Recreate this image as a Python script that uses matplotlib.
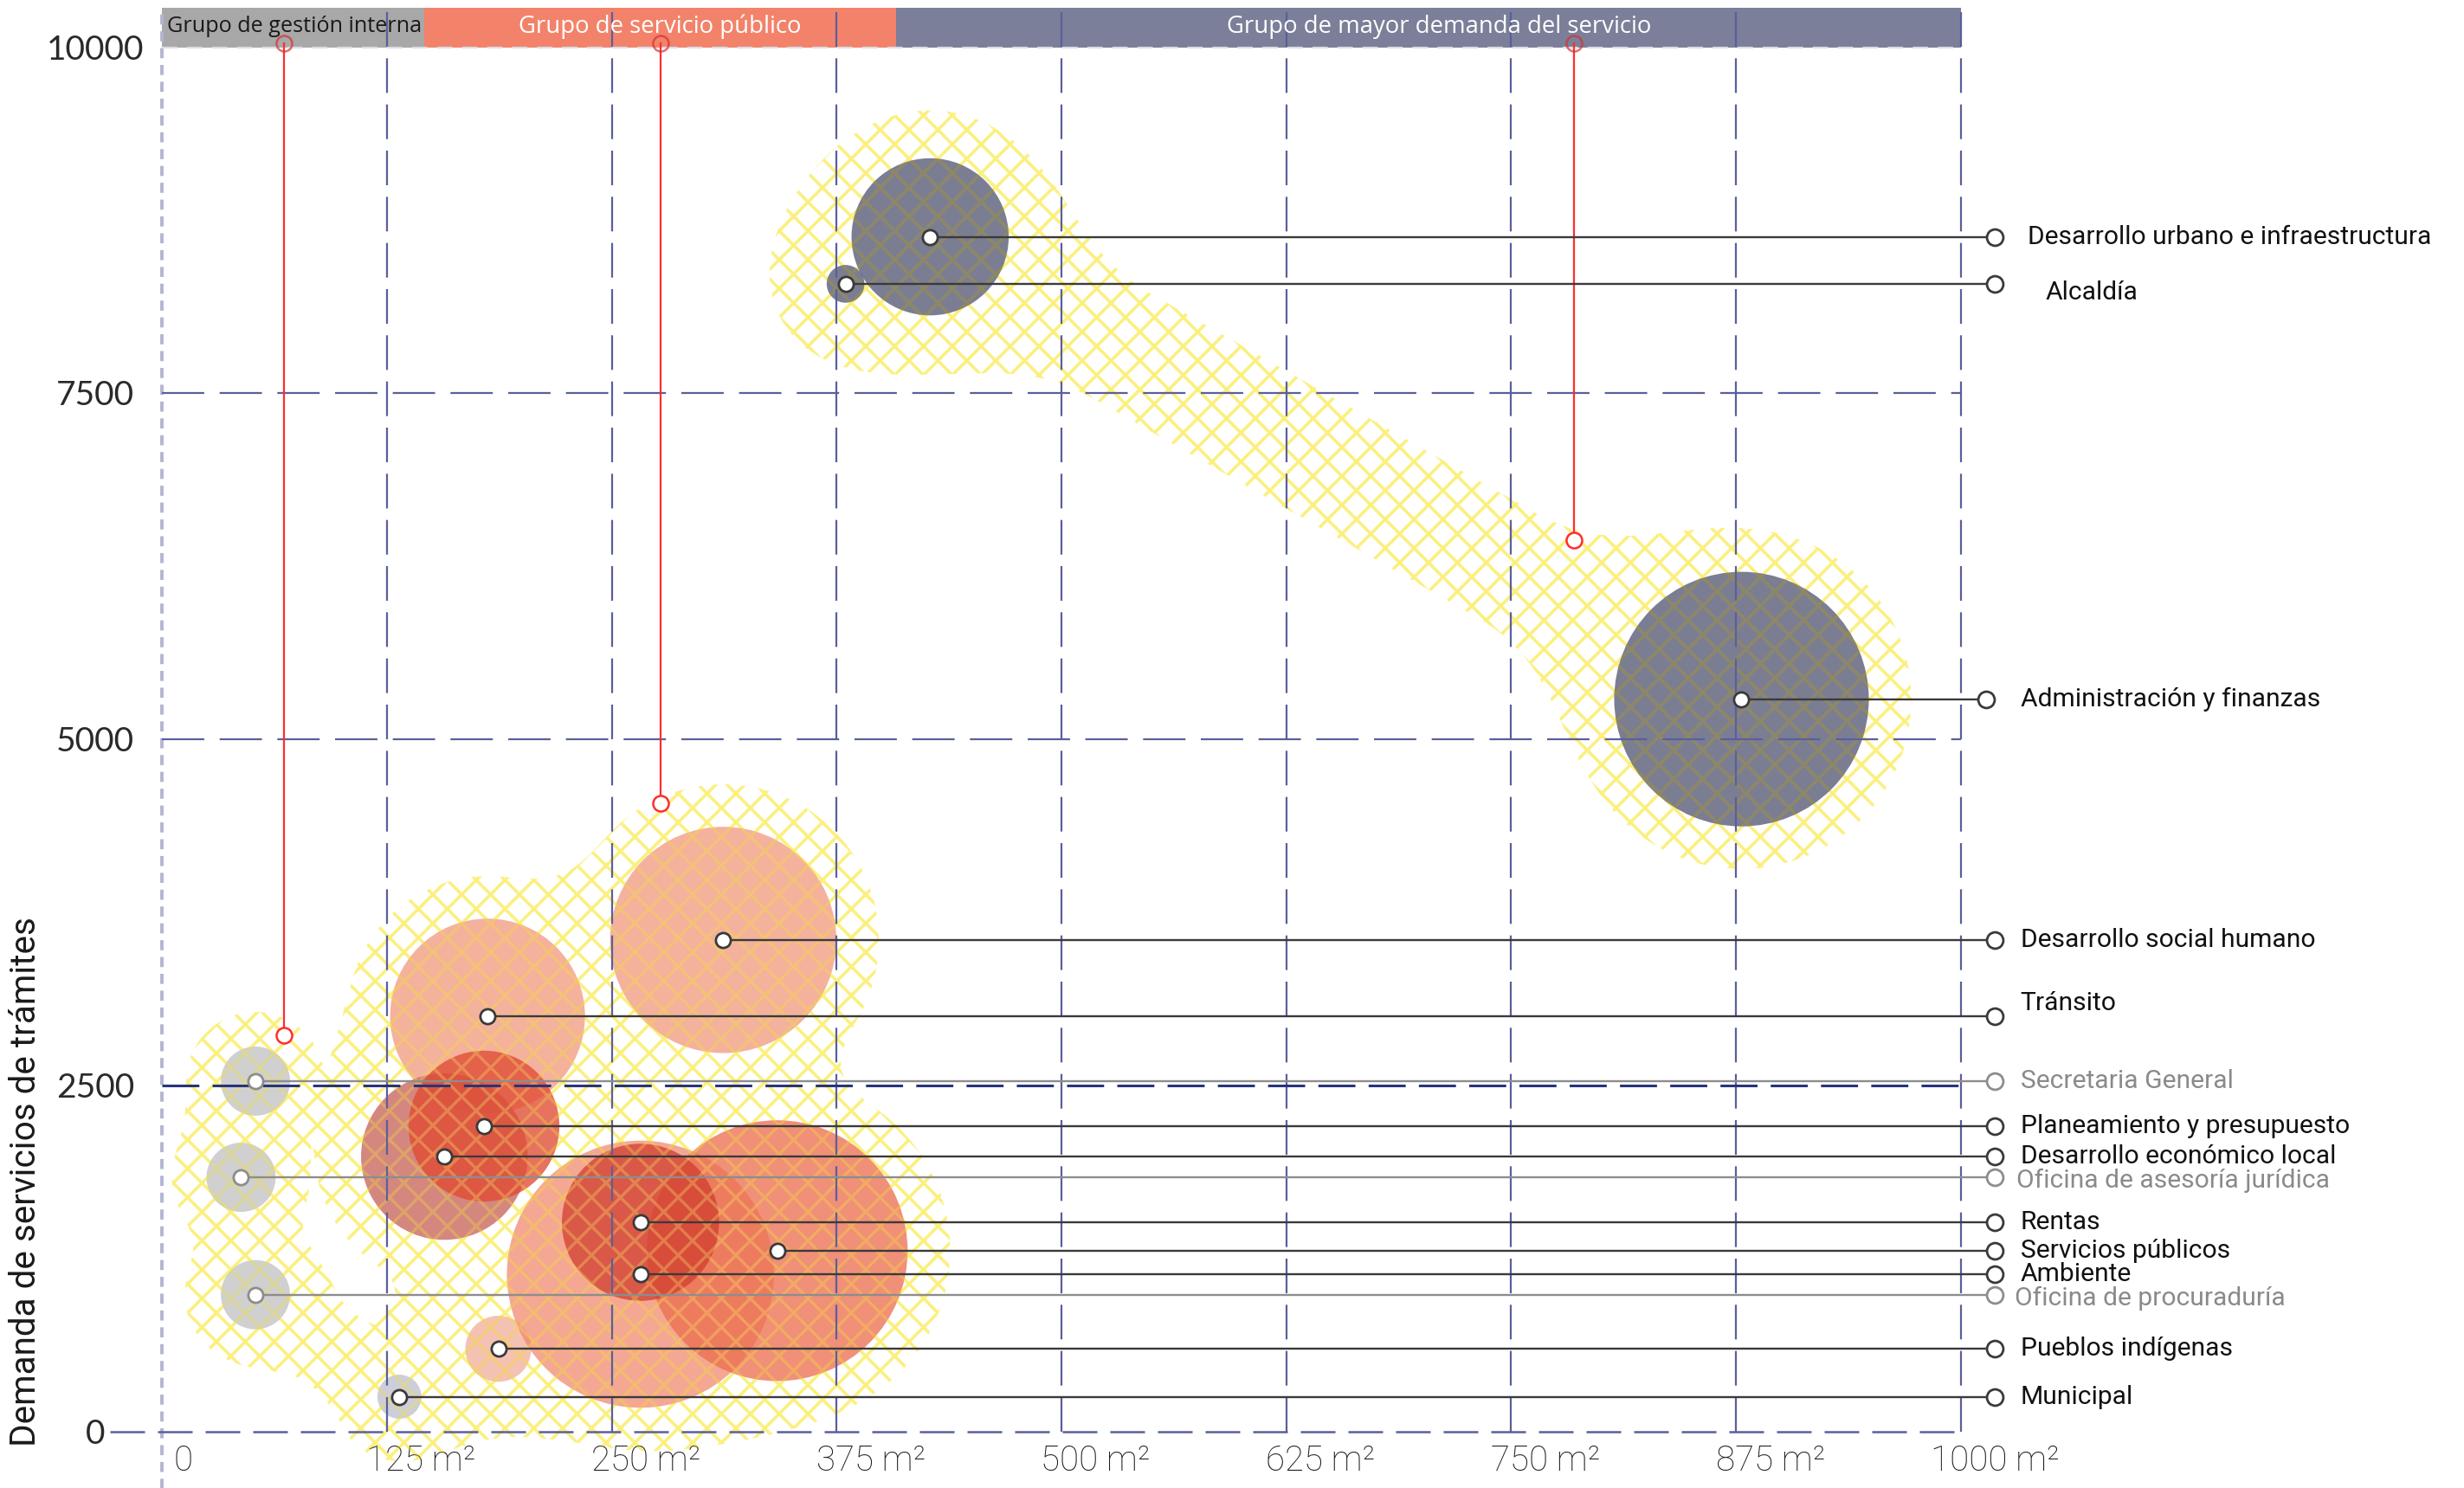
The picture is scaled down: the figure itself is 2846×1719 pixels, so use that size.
import numpy as np
import matplotlib.pyplot as plt
from matplotlib.colors import to_rgba
from matplotlib.patches import Rectangle

# ---- datos ----
dependencias = [
    "Desarrollo urbano e infraestructura", "Alcaldía", "Administración y finanzas",
    "Desarrollo social humano", "Tránsito", "Secretaria General",
    "Planeamiento y presupuesto", "Desarrollo económico local",
    "Oficina de asesoría jurídica", "Rentas", "Servicios públicos", "Ambiente",
    "Oficina de procuraduría", "Pueblos indígenas", "Municipal",
]
area_m2 = [427, 380, 878, 312, 181, 52, 179, 157, 44, 266, 342, 266, 52, 187, 132]
demanda = [8630, 8290, 5290, 3550, 3000, 2530, 2205, 1985, 1835, 1510, 1305, 1135, 987, 596, 250]
tamano = [50, 12, 81, 72, 62, 22, 48, 53, 22, 50, 83, 85, 22, 21, 14]
grupo = ["mayor", "mayor", "mayor", "publico", "publico", "interna", "publico", "publico",
         "interna", "publico", "publico", "publico", "interna", "publico", "interna"]

grupos = ["Grupo de gestión interna", "Grupo de servicio público", "Grupo de mayor demanda del servicio"]
grupo_limites = [0, 146, 408, 1000]
grupo_area = [68, 277, 785]
grupo_demanda = [2860, 4540, 6440]

x_ticks = [0, 125, 250, 375, 500, 625, 750, 875, 1000]
x_tick_labels = ["0", "125 m²", "250 m²", "375 m²", "500 m²", "625 m²", "750 m²", "875 m²", "1000 m²"]
y_ticks = [0, 2500, 5000, 7500, 10000]
y_tick_labels = ["0", "2500", "5000", "7500", "10000"]

# ---- escala de la figura ----
DPI = 200
W_PX, H_PX = 2846, 1719
X0_PX, X1_PX = 187, 2265          # pixeles de x=0 y x=1000
Y0_PX, Y1_PX = 1653.5, 54.5       # pixeles de y=0 y y=10000
SX = (X1_PX - X0_PX) / 1000.0
SY = (Y0_PX - Y1_PX) / 10000.0
REF = 1.815                        # medidas tomadas sobre la imagen reducida

GRID = '#5a5f9c'
HATCH = '#fbf07e'
colores = {
    "Desarrollo urbano e infraestructura": ('#5a5d78', 0.8, 3.0),
    "Alcaldía": ('#5a5d78', 0.8, 3.1),
    "Administración y finanzas": ('#5a5d78', 0.8, 3.0),
    "Desarrollo social humano": ('#f09478', 0.72, 3.0),
    "Tránsito": ('#f09478', 0.72, 3.0),
    "Secretaria General": ('#bcbcbc', 0.7, 3.0),
    "Planeamiento y presupuesto": ('#e04a33', 0.78, 3.2),
    "Desarrollo económico local": ('#c8655b', 0.78, 3.1),
    "Oficina de asesoría jurídica": ('#bcbcbc', 0.7, 3.0),
    "Rentas": ('#d23d2e', 0.75, 3.4),
    "Servicios públicos": ('#ec6d4e', 0.76, 3.3),
    "Ambiente": ('#f08466', 0.7, 3.2),
    "Oficina de procuraduría": ('#bcbcbc', 0.7, 3.0),
    "Pueblos indígenas": ('#ee9a80', 0.6, 3.0),
    "Municipal": ('#b9bac8', 0.7, 3.0),
}
grises = {"Secretaria General", "Oficina de asesoría jurídica", "Oficina de procuraduría"}
# (dx marcador, dx texto, dy texto) para las etiquetas de la derecha
ajuste = {
    "Desarrollo urbano e infraestructura": (0, 4, 0),
    "Alcaldía": (0, 14, -60),
    "Administración y finanzas": (-5, 0, 0),
    "Tránsito": (0, 0, 95),
    "Oficina de asesoría jurídica": (0, -2, -25),
    "Oficina de procuraduría": (0, -3, -25),
}

plt.rcParams['hatch.linewidth'] = 1.25

fig = plt.figure(figsize=(W_PX / DPI, H_PX / DPI), dpi=DPI)
ax = fig.add_axes([0, 0, 1, 1])
ax.set_xlim(-X0_PX / SX, (W_PX - X0_PX) / SX)
ax.set_ylim(-(H_PX - Y0_PX) / SY, Y0_PX / SY)
ax.axis('off')

idx = {n: i for i, n in enumerate(dependencias)}

# ---- manchas amarillas (union suave de circulos ampliados) ----
gx = np.linspace(-80, 1150, 800)
gy = np.linspace(-420, 10300, 800)
GX, GY = np.meshgrid(gx, gy)
PX, PY = GX * SX, GY * SY


def d_circulo(n, extra):
    i = idx[n]
    return np.hypot(PX - area_m2[i] * SX, PY - demanda[i] * SY) - (tamano[i] + extra) * REF


def d_capsula(a, b, ancho):
    ia, ib = idx[a], idx[b]
    ax_, ay_ = area_m2[ia] * SX, demanda[ia] * SY
    bx_, by_ = area_m2[ib] * SX, demanda[ib] * SY
    vx, vy = bx_ - ax_, by_ - ay_
    t = np.clip(((PX - ax_) * vx + (PY - ay_) * vy) / (vx * vx + vy * vy), 0, 1)
    return np.hypot(PX - ax_ - t * vx, PY - ay_ - t * vy) - ancho * REF


def smin(a, b, k):
    h = np.clip(0.5 + 0.5 * (b - a) / k, 0, 1)
    return b * (1 - h) + a * h - k * h * (1 - h)


manchas = [
    (["Secretaria General", "Oficina de asesoría jurídica", "Oficina de procuraduría", "Municipal"],
     [("Oficina de procuraduría", "Municipal", 24)], 22, 30),
    (["Desarrollo social humano", "Tránsito", "Planeamiento y presupuesto", "Desarrollo económico local",
      "Rentas", "Servicios públicos", "Ambiente", "Pueblos indígenas", "Municipal"], [], 27, 50),
    (["Desarrollo urbano e infraestructura", "Alcaldía", "Administración y finanzas"],
     [("Desarrollo urbano e infraestructura", "Administración y finanzas", 38)], 27, 70),
]
campo = None
for miembros, enlaces, extra, k in manchas:
    d = None
    for n in miembros:
        c = d_circulo(n, extra)
        d = c if d is None else smin(d, c, k * REF)
    for a, b, w in enlaces:
        d = smin(d, d_capsula(a, b, w), k * REF)
    campo = d if campo is None else np.minimum(campo, d)

niveles = [campo.min() - 1, 0]
plt.rcParams['hatch.color'] = HATCH
ax.contourf(GX, GY, campo, levels=niveles, colors='none', hatches=['xx'], zorder=2)
# la misma trama, tenue, por encima de las burbujas
plt.rcParams['hatch.color'] = to_rgba(HATCH, 0.3)
ax.contourf(GX, GY, campo, levels=niveles, colors='none', hatches=['xx'], zorder=3.45)

# ---- burbujas ----
for n in dependencias:
    i = idx[n]
    col, a, z = colores[n]
    diam_pt = 2 * tamano[i] * REF * 72 / DPI
    ax.scatter(area_m2[i], demanda[i], s=diam_pt ** 2, color=col, alpha=a,
               edgecolors='none', zorder=z)
    if grupo[i] == "mayor":
        # la trama se ve oscurecida dentro de estas burbujas
        ax.scatter(area_m2[i], demanda[i], s=diam_pt ** 2, facecolors='none',
                   edgecolors='#7a7258', linewidths=0, hatch='xx', alpha=0.5, zorder=3.5)

# ---- cuadricula ----
for t in x_ticks[1:]:
    ax.plot([t, t], [0, 10283], color=GRID, lw=0.8, ls=(0, (18, 6)), zorder=3.6)
ax.plot([0, 0], [-420, 10283], color='#b3b6d2', lw=1.4, ls=(0, (3, 2)), zorder=3.6)
for t in y_ticks[1:-1]:
    if t == 2500:
        ax.plot([0, 1000], [t, t], color='#27347c', lw=1.1, ls=(0, (14, 5)), zorder=3.7)
    else:
        ax.plot([0, 1000], [t, t], color=GRID, lw=0.8, ls=(0, (22, 8)), zorder=3.6)
ax.plot([-29, 1000], [0, 0], color=GRID, lw=0.9, ls=(0, (16, 6)), zorder=3.6)

# ---- cabecera de grupos ----
colores_grupo = ['#a8a8a8', '#f2836a', '#7b7f99']
texto_grupo = ['#1a1a1a', 'white', 'white']
desplaza = [0, 0, 6]
for k, nombre in enumerate(grupos):
    x0, x1 = grupo_limites[k], grupo_limites[k + 1]
    ax.add_patch(Rectangle((x0, 10000), x1 - x0, 283, color=colores_grupo[k], zorder=3.55, lw=0))
    if k == 0:
        ax.text(x0 + 3, 10150, nombre, ha='left', va='center', fontsize=9.1,
                color=texto_grupo[k], family='Open Sans', zorder=5)
    else:
        ax.text((x0 + x1) / 2 + desplaza[k], 10150, nombre, ha='center', va='center', fontsize=9.9,
                color=texto_grupo[k], family='Open Sans', zorder=5)
ax.plot([0, 1000], [10000, 10000], color='#dcdce6', lw=0.8, ls=(0, (8, 5)), zorder=3.7)

# ---- lineas rojas de grupo ----
for gxv, gyv in zip(grupo_area, grupo_demanda):
    ax.plot([gxv, gxv], [gyv, 10030], color='#ff2d2d', lw=0.8, zorder=4.5)
    ax.plot([gxv], [gyv], marker='o', ms=6.5, mfc='white', mec='#ff2d2d', mew=0.9, zorder=4.6)
    ax.plot([gxv], [10030], marker='o', ms=6.5, mfc='none', mec='#d83030', mew=0.9,
            alpha=0.7, zorder=4.6)

# ---- lineas guia y etiquetas ----
LBL_X = 1019
for n in dependencias:
    i = idx[n]
    dmx, dtx, dty = ajuste.get(n, (0, 0, 0))
    gris = n in grises
    lc = '#8d8d8d' if gris else '#3a3a3a'
    tc = '#8a8a8a' if gris else '#111111'
    xm = LBL_X + dmx
    ax.plot([area_m2[i], xm], [demanda[i], demanda[i]], color=lc, lw=0.85, zorder=5)
    ax.plot([area_m2[i]], [demanda[i]], marker='o', ms=6.2, mfc='white', mec=lc, mew=1.0, zorder=6)
    ax.plot([xm], [demanda[i]], marker='o', ms=6.8, mfc='white', mec=lc, mew=1.0, zorder=6)
    ax.text(LBL_X + 14 + dtx, demanda[i] + dty, n, ha='left', va='center', fontsize=10.8,
            color=tc, family='Roboto', zorder=6)

# ---- ejes ----
for t, lab in zip(x_ticks, x_tick_labels):
    off = 12 if t == 0 else 19
    ax.text(t + off, -215, lab, ha='center', va='center', fontsize=14.5, color='#1e1e1e',
            family='Roboto', fontweight='light')
for t, lab in zip(y_ticks, y_tick_labels):
    ax.text(-37, t - 20, lab, ha='center', va='center', fontsize=14, color='#2a2a2a',
            family='Lato')
ax.text(-76, 1805, "Demanda de servicios de trámites", rotation=90, ha='center', va='center',
        fontsize=14.6, color='#1a1a1a', family='Roboto')

fig.savefig('out.png', dpi=DPI)
